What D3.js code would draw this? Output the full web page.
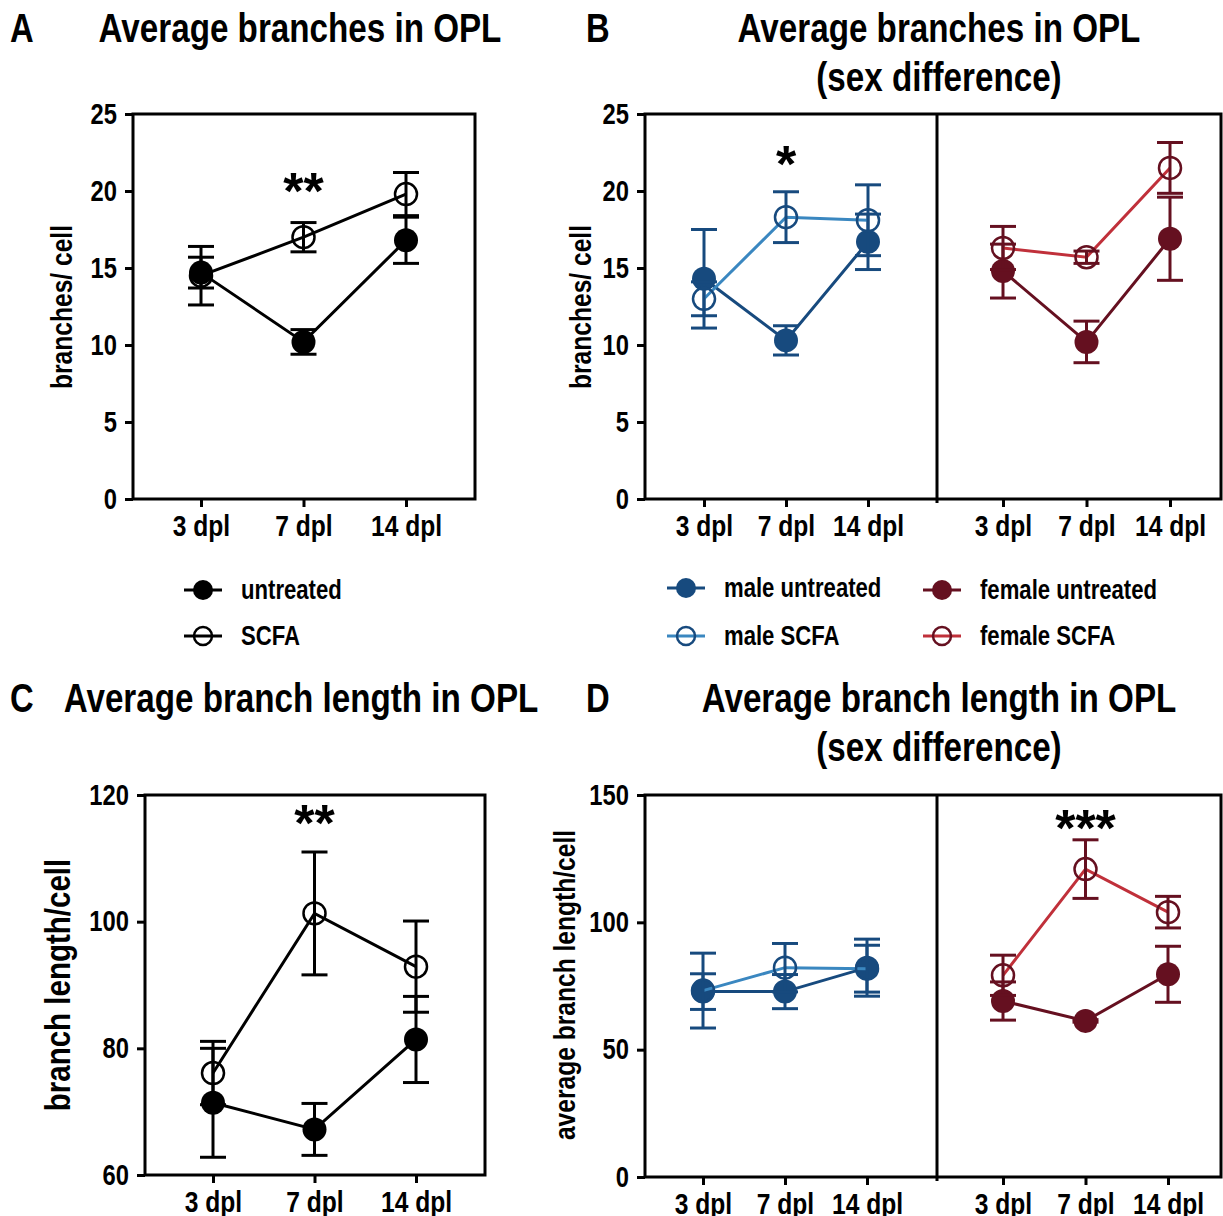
<!DOCTYPE html>
<html>
<head>
<meta charset="utf-8">
<script src="https://cdn.jsdelivr.net/npm/d3@7"></script>
<style>
  body { margin: 0; background: #fff; }
  svg { display: block; }
</style>
</head>
<body>
<script>
// time points (x categories)
const days = ["3 dpl", "7 dpl", "14 dpl"];

// A: average branches in OPL
const branchesUntreated = [14.7, 10.2, 16.8];
const branchesUntreatedSem = [1.0, 0.8, 1.5];
const branchesScfa = [14.5, 17.0, 19.8];
const branchesScfaSem = [1.9, 0.95, 1.4];

// B: branches by sex
const branchesMaleUntreated = [14.3, 10.3, 16.7];
const branchesMaleUntreatedSem = [3.2, 0.95, 1.8];
const branchesMaleScfa = [13.0, 18.3, 18.1];
const branchesMaleScfaSem = [1.1, 1.65, 2.3];
const branchesFemaleUntreated = [14.8, 10.2, 16.9];
const branchesFemaleUntreatedSem = [1.75, 1.35, 2.7];
const branchesFemaleScfa = [16.3, 15.7, 21.5];
const branchesFemaleScfaSem = [1.4, 0.4, 1.65];

// C: average branch length in OPL
const lengthUntreated = [71.4, 67.2, 81.4];
const lengthUntreatedSem = [8.6, 4.1, 6.8];
const lengthScfa = [76.1, 101.3, 92.9];
const lengthScfaSem = [5.0, 9.7, 7.2];

// D: branch length by sex
const lengthMaleUntreated = [72.8, 72.8, 82.2];
const lengthMaleUntreatedSem = [7.0, 6.7, 11.2];
const lengthMaleScfa = [73.2, 82.2, 81.8];
const lengthMaleScfaSem = [14.7, 9.5, 9.2];
const lengthFemaleUntreated = [69.1, 61.3, 79.6];
const lengthFemaleUntreatedSem = [7.5, 0.5, 11.0];
const lengthFemaleScfa = [79.2, 120.9, 104.0];
const lengthFemaleScfaSem = [7.9, 11.5, 6.2];

// tick values
const branchTicks = [0, 5, 10, 15, 20, 25];
const lengthTicksC = [60, 80, 100, 120];
const lengthTicksD = [0, 50, 100, 150];

// narrow bold look: Arial-metric font squeezed horizontally
const FONT = '"Liberation Sans", Arial, sans-serif';
const NARROW = 0.82;
const BLACK = "#000";
const BLUE_DARK = "#174a7e";
const BLUE_LIGHT = "#3a87c0";
const RED_DARK = "#651020";
const RED_LIGHT = "#c0303a";

const svg = d3.select("body").append("svg")
    .attr("width", 1223)
    .attr("height", 1216)
    .style("font-family", FONT)
    .style("font-weight", "bold");

function condense(sel) {
    sel.each(function() {
        const t = d3.select(this);
        const x = +t.attr("x") || 0;
        t.attr("transform", `translate(${x},0) scale(${NARROW},1) translate(${-x},0)`);
    });
}

function frame(left, right, top, bottom, dividers) {
    svg.append("rect")
       .attr("x", left).attr("y", top)
       .attr("width", right - left).attr("height", bottom - top)
       .attr("fill", "none").attr("stroke", BLACK).attr("stroke-width", 3);
    (dividers || []).forEach(dx => {
        svg.append("line")
           .attr("x1", dx).attr("x2", dx).attr("y1", top).attr("y2", bottom + 4)
           .attr("stroke", BLACK).attr("stroke-width", 3);
    });
}

function yAxis(y, left, ticks) {
    const g = svg.append("g")
        .attr("transform", `translate(${left},0)`)
        .call(d3.axisLeft(y).tickValues(ticks).tickSize(8).tickPadding(8).tickFormat(d3.format("d")));
    g.select(".domain").remove();
    g.selectAll(".tick line").attr("stroke-width", 3);
    g.selectAll(".tick text").style("font-size", "29px").style("font-family", FONT).call(condense);
}

function xAxis(x, bottom) {
    const g = svg.append("g")
        .attr("transform", `translate(0,${bottom})`)
        .call(d3.axisBottom(x).tickSize(8).tickPadding(8));
    g.select(".domain").remove();
    g.selectAll(".tick line").attr("stroke-width", 3);
    g.selectAll(".tick text").style("font-size", "30px").style("font-family", FONT).call(condense);
}

function series(x, y, vals, sem, opt) {
    const pts = days.map((d, i) => ({d: d, v: vals[i], e: sem[i]}));
    const g = svg.append("g");
    g.append("path")
     .datum(pts)
     .attr("d", d3.line().x(p => x(p.d)).y(p => y(p.v)))
     .attr("fill", "none")
     .attr("stroke", opt.line)
     .attr("stroke-width", 3);
    const eb = g.selectAll(null).data(pts).enter().append("g")
        .attr("stroke", opt.dark).attr("stroke-width", 3);
    eb.append("line")
      .attr("x1", p => x(p.d)).attr("x2", p => x(p.d))
      .attr("y1", p => y(p.v - p.e)).attr("y2", p => y(p.v + p.e));
    [-1, 1].forEach(s => {
        eb.append("line")
          .attr("x1", p => x(p.d) - 13).attr("x2", p => x(p.d) + 13)
          .attr("y1", p => y(p.v + s * p.e)).attr("y2", p => y(p.v + s * p.e));
    });
    g.selectAll(null).data(pts).enter().append("circle")
     .attr("cx", p => x(p.d)).attr("cy", p => y(p.v))
     .attr("r", opt.open ? 11 : 12)
     .attr("fill", opt.open ? "none" : opt.dark)
     .attr("stroke", opt.dark)
     .attr("stroke-width", opt.open ? 2.5 : 0);
}

function text(x, y, str, size, anchor) {
    return svg.append("text")
       .attr("x", x).attr("y", y)
       .attr("text-anchor", anchor || "middle")
       .style("font-size", size + "px")
       .text(str)
       .call(condense);
}

// significance stars, full width
function stars(x, y, str) {
    svg.append("text")
       .attr("x", x).attr("y", y)
       .attr("text-anchor", "middle")
       .style("font-size", "52px")
       .text(str);
}

function yLabel(x, y, str, size) {
    svg.append("text")
       .attr("transform", `translate(${x},${y}) rotate(-90) scale(${NARROW},1)`)
       .attr("text-anchor", "middle")
       .style("font-size", size + "px")
       .text(str);
}

function legendItem(cx, cy, label, opt) {
    svg.append("line")
       .attr("x1", cx - 19).attr("x2", cx + 19).attr("y1", cy).attr("y2", cy)
       .attr("stroke", opt.line).attr("stroke-width", 3);
    svg.append("circle")
       .attr("cx", cx).attr("cy", cy)
       .attr("r", opt.open ? 9 : 10)
       .attr("fill", opt.open ? "none" : opt.dark)
       .attr("stroke", opt.dark)
       .attr("stroke-width", opt.open ? 2.5 : 0);
    text(cx + 38, cy + 9, label, 27, "start");
}

const untreatedStyle = {line: BLACK, dark: BLACK, open: false};
const scfaStyle = {line: BLACK, dark: BLACK, open: true};
const maleUntreatedStyle = {line: BLUE_DARK, dark: BLUE_DARK, open: false};
const maleScfaStyle = {line: BLUE_LIGHT, dark: BLUE_DARK, open: true};
const femaleUntreatedStyle = {line: RED_DARK, dark: RED_DARK, open: false};
const femaleScfaStyle = {line: RED_LIGHT, dark: RED_DARK, open: true};

// ---------- Panel A ----------
{
    const y = d3.scaleLinear().domain([0, 25]).range([499, 114]);
    const x = d3.scalePoint().domain(days).range([201, 406]);
    frame(133, 475, 114, 499);
    yAxis(y, 133, branchTicks);
    xAxis(x, 499);
    series(x, y, branchesUntreated, branchesUntreatedSem, untreatedStyle);
    series(x, y, branchesScfa, branchesScfaSem, scfaStyle);
    stars(x("7 dpl"), 209, "**");
    yLabel(72, 307, "branches/ cell", 30);
    text(10, 42, "A", 40, "start");
    text(300, 42, "Average branches in OPL", 40.5);
    legendItem(203, 590, "untreated", untreatedStyle);
    legendItem(203, 636, "SCFA", scfaStyle);
}

// ---------- Panel B ----------
{
    const y = d3.scaleLinear().domain([0, 25]).range([499, 114]);
    const xL = d3.scalePoint().domain(days).range([704, 868]);
    const xR = d3.scalePoint().domain(days).range([1003, 1170]);
    frame(645, 1221, 114, 499, [937]);
    yAxis(y, 645, branchTicks);
    xAxis(xL, 499);
    xAxis(xR, 499);
    series(xL, y, branchesMaleUntreated, branchesMaleUntreatedSem, maleUntreatedStyle);
    series(xL, y, branchesMaleScfa, branchesMaleScfaSem, maleScfaStyle);
    series(xR, y, branchesFemaleUntreated, branchesFemaleUntreatedSem, femaleUntreatedStyle);
    series(xR, y, branchesFemaleScfa, branchesFemaleScfaSem, femaleScfaStyle);
    stars(xL("7 dpl"), 182, "*");
    yLabel(591, 307, "branches/ cell", 30);
    text(586, 42, "B", 40, "start");
    text(939, 42, "Average branches in OPL", 40.5);
    text(939, 91, "(sex difference)", 40.5);
    legendItem(686, 588, "male untreated", maleUntreatedStyle);
    legendItem(942, 590, "female untreated", femaleUntreatedStyle);
    legendItem(686, 636, "male SCFA", maleScfaStyle);
    legendItem(942, 636, "female SCFA", femaleScfaStyle);
}

// ---------- Panel C ----------
{
    const y = d3.scaleLinear().domain([60, 120]).range([1175, 795]);
    const x = d3.scalePoint().domain(days).range([213, 416]);
    frame(145, 485, 795, 1175);
    yAxis(y, 145, lengthTicksC);
    xAxis(x, 1175);
    series(x, y, lengthUntreated, lengthUntreatedSem, untreatedStyle);
    series(x, y, lengthScfa, lengthScfaSem, scfaStyle);
    stars(x("7 dpl"), 841, "**");
    yLabel(70, 985, "branch length/cell", 36);
    text(10, 712, "C", 40, "start");
    text(301, 712, "Average branch length in OPL", 40.5);
}

// ---------- Panel D ----------
{
    const y = d3.scaleLinear().domain([0, 150]).range([1177, 795]);
    const xL = d3.scalePoint().domain(days).range([703, 867]);
    const xR = d3.scalePoint().domain(days).range([1003, 1168]);
    frame(645, 1221, 795, 1177, [937]);
    yAxis(y, 645, lengthTicksD);
    xAxis(xL, 1177);
    xAxis(xR, 1177);
    series(xL, y, lengthMaleUntreated, lengthMaleUntreatedSem, maleUntreatedStyle);
    series(xL, y, lengthMaleScfa, lengthMaleScfaSem, maleScfaStyle);
    series(xR, y, lengthFemaleUntreated, lengthFemaleUntreatedSem, femaleUntreatedStyle);
    series(xR, y, lengthFemaleScfa, lengthFemaleScfaSem, femaleScfaStyle);
    stars(xR("7 dpl"), 846, "***");
    yLabel(575, 985, "average branch length/cell", 30);
    text(586, 712, "D", 40, "start");
    text(939, 712, "Average branch length in OPL", 40.5);
    text(939, 761, "(sex difference)", 40.5);
}
</script>
</body>
</html>
